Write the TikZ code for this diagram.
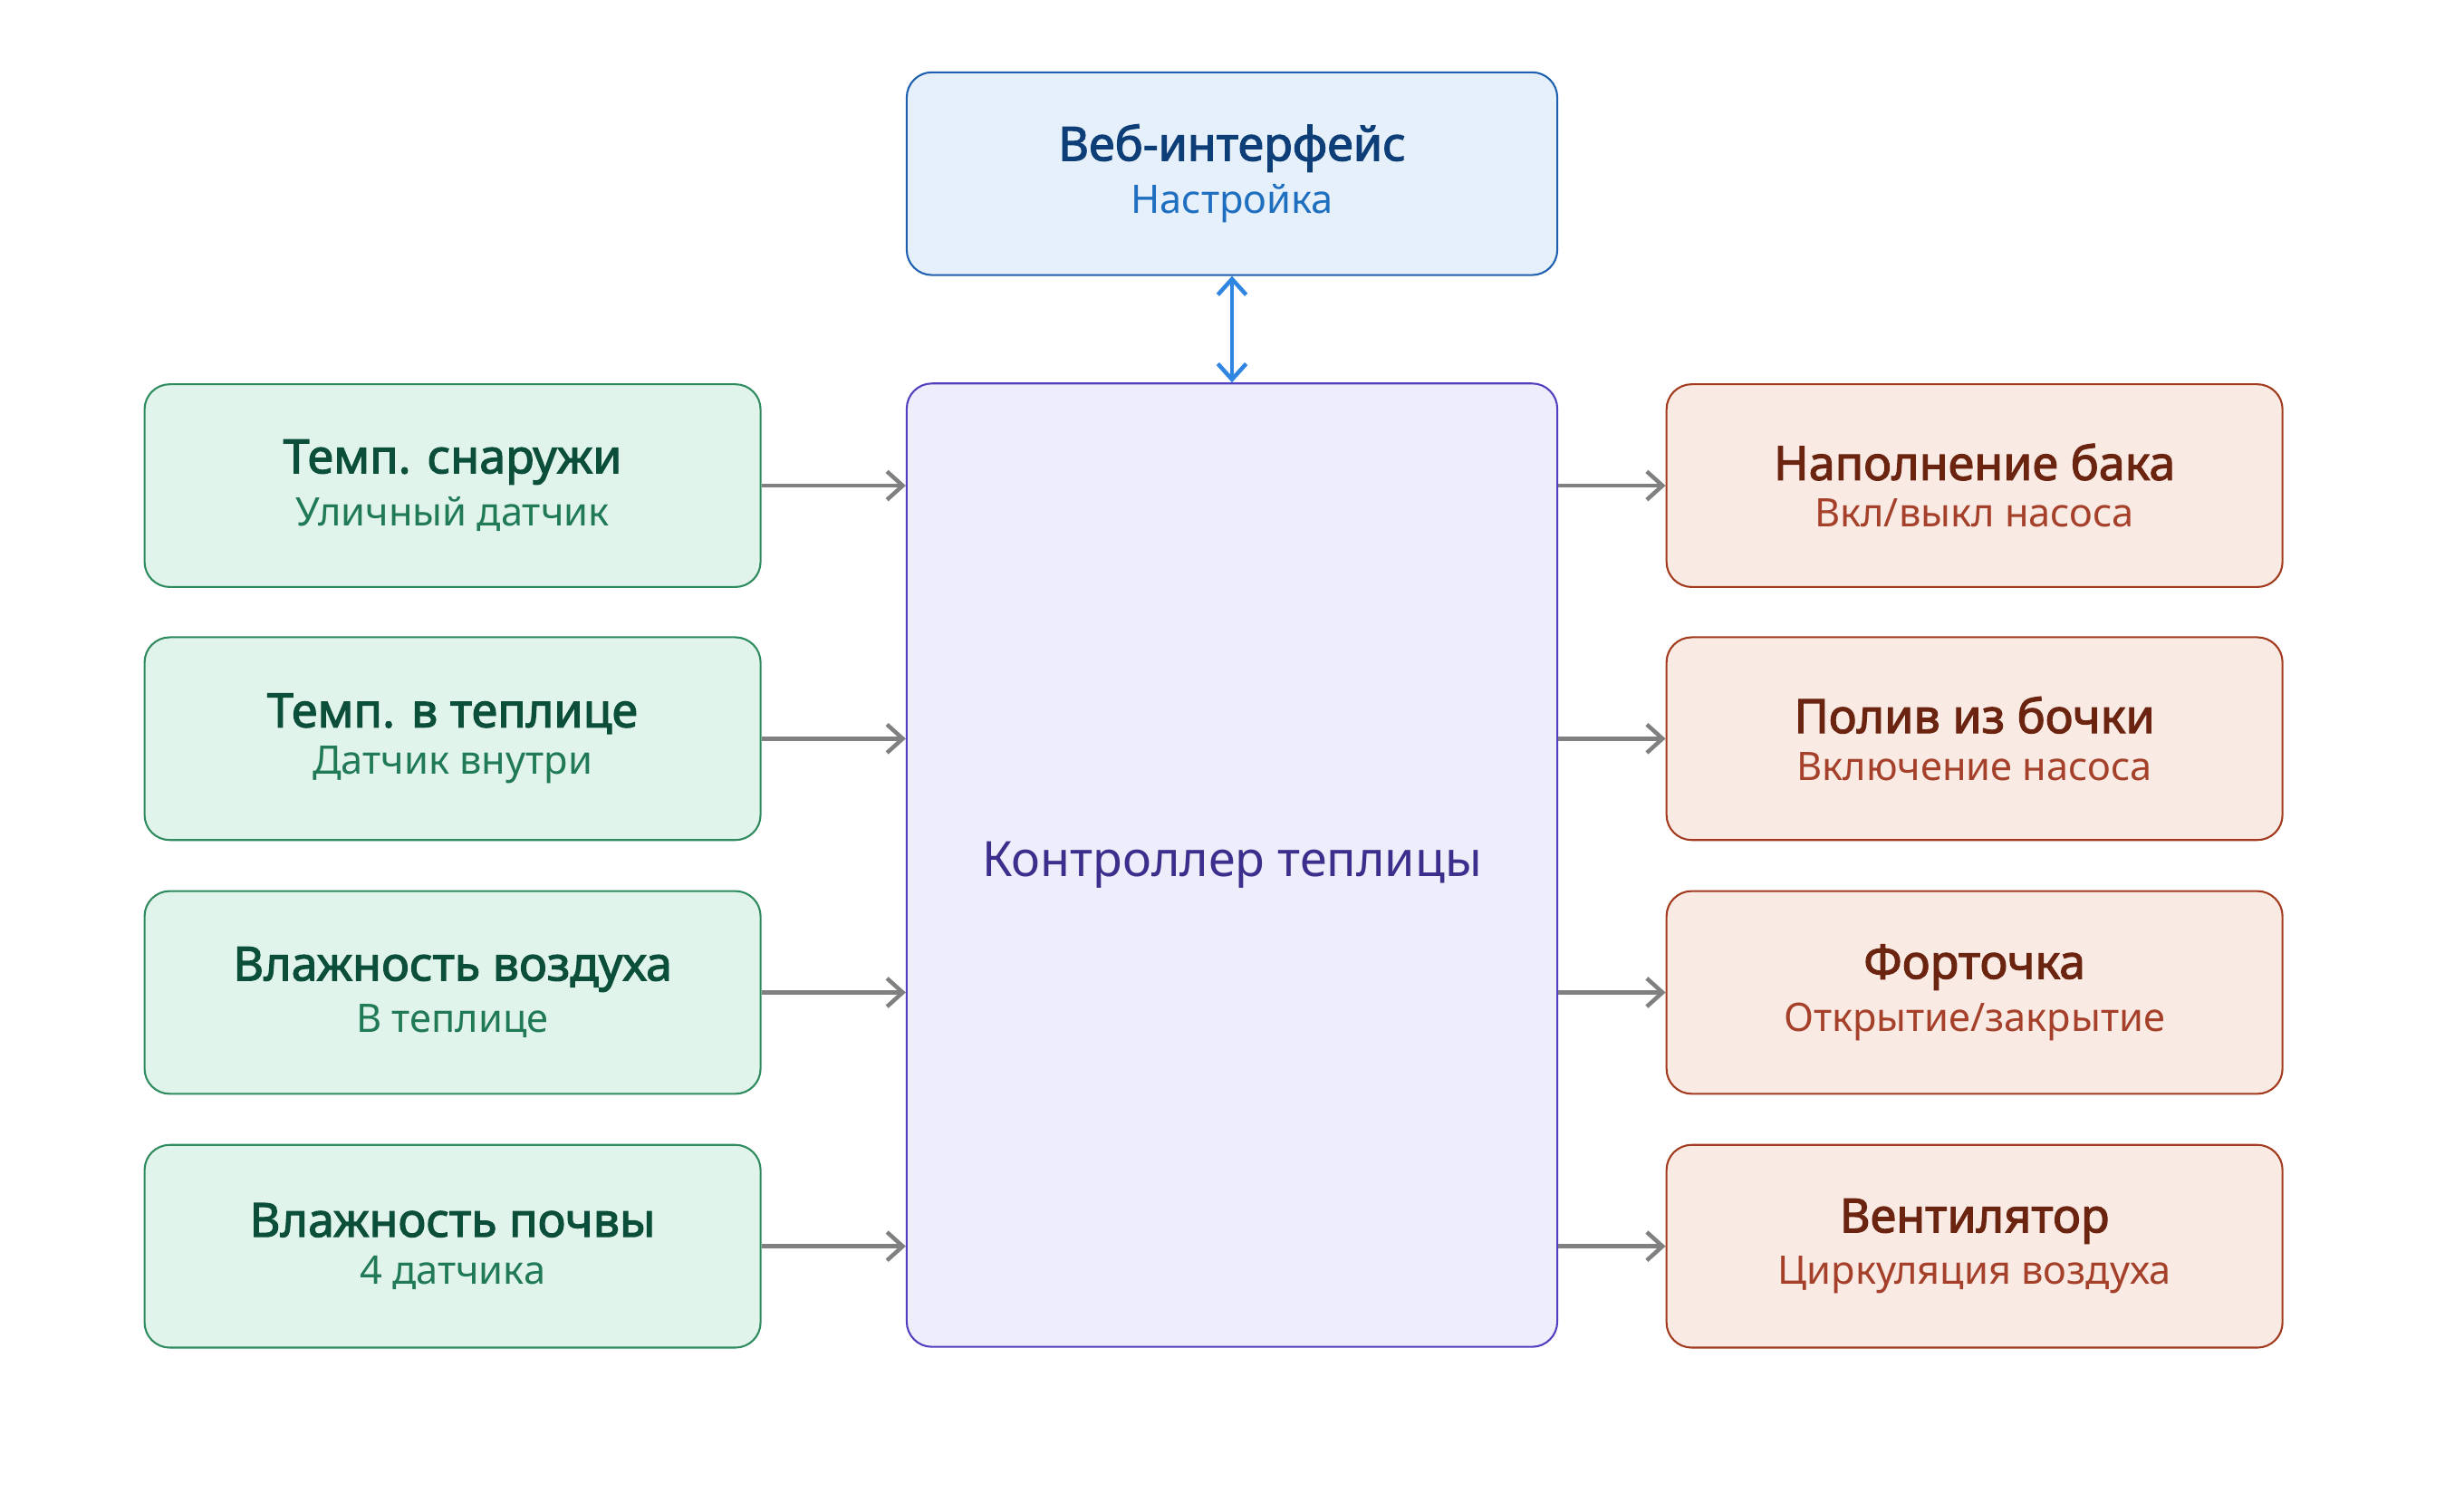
\documentclass[tikz,border=0pt]{standalone}
\usepackage{fontspec}
\setmainfont{Noto Sans}[AutoFakeBold=2.2]
\usetikzlibrary{arrows.meta}
\definecolor{inFill}{HTML}{E1F4EC}\definecolor{inLine}{HTML}{2E8B5E}
\definecolor{inHead}{HTML}{0B4F3A}\definecolor{inSub}{HTML}{1F7A55}
\definecolor{outFill}{HTML}{FAEAE4}\definecolor{outLine}{HTML}{A23B1E}
\definecolor{outHead}{HTML}{6B2410}\definecolor{outSub}{HTML}{A5402A}
\definecolor{webFill}{HTML}{E5F0FA}\definecolor{webLine}{HTML}{1F5FAF}
\definecolor{webHead}{HTML}{0D3E78}\definecolor{webSub}{HTML}{1F6FC0}
\definecolor{ctlFill}{HTML}{EEEDFB}\definecolor{ctlLine}{HTML}{5040C0}
\definecolor{ctlText}{HTML}{3B2E8C}
\definecolor{linkGray}{HTML}{808080}\definecolor{linkBlue}{HTML}{2F86E0}
\tikzset{
  box/.style={rectangle, rounded corners=8pt, line width=0.6pt, minimum width=196pt,
    minimum height=64.5pt, align=center, inner sep=0pt},
  inbox/.style={box, fill=inFill, draw=inLine},
  outbox/.style={box, fill=outFill, draw=outLine},
  link/.style={draw=linkGray, line width=1.3pt, -{Straight Barb[length=5pt,width=9pt]}},
}
\newcommand{\boxtext}[4]{{\fontsize{15}{22}\selectfont\bfseries\color{#1}#2}\\[3pt]{\fontsize{12.5}{16}\selectfont\color{#3}#4}}
\begin{document}
\begin{tikzpicture}[x=0.5pt,y=-0.5pt]
  \useasboundingbox (0,0) rectangle (1568,950);
  % upper block
  \node[box, fill=webFill, draw=webLine, minimum width=207pt] (web) at (784,110.5)
    {\boxtext{webHead}{Веб-интерфейс}{webSub}{Настройка}};
  \node[box, fill=ctlFill, draw=ctlLine, minimum width=207pt, minimum height=306.5pt] (ctl) at (784,550.5)
    {\fontsize{15.5}{20}\selectfont\color{ctlText}Контроллер теплицы};
  \draw[draw=linkBlue, line width=1.3pt, {Straight Barb[length=5pt,width=9pt]}-{Straight Barb[length=5pt,width=9pt]}] (web) -- (ctl);
  % sensors
  \node[inbox] (tout) at (288,309) {\boxtext{inHead}{Темп. снаружи}{inSub}{Уличный датчик}};
  \node[inbox] (tin) at (288,470) {\boxtext{inHead}{Темп. в теплице}{inSub}{Датчик внутри}};
  \node[inbox] (hair) at (288,631.5) {\boxtext{inHead}{Влажность воздуха}{inSub}{В теплице}};
  \node[inbox] (hsoil) at (288,793) {\boxtext{inHead}{Влажность почвы}{inSub}{4 датчика}};
  % actuators
  \node[outbox] (tank) at (1256.5,309) {\boxtext{outHead}{Наполнение бака}{outSub}{Вкл/выкл насоса}};
  \node[outbox] (water) at (1256.5,470) {\boxtext{outHead}{Полив из бочки}{outSub}{Включение насоса}};
  \node[outbox] (vent) at (1256.5,631.5) {\boxtext{outHead}{Форточка}{outSub}{Открытие/закрытие}};
  \node[outbox] (fan) at (1256.5,793) {\boxtext{outHead}{Вентилятор}{outSub}{Циркуляция воздуха}};
  \foreach \s in {tout,tin,hair,hsoil}
    \draw[link] (\s.east) -- (\s.east -| ctl.west);
  \foreach \a in {tank,water,vent,fan}
    \draw[link] (\a.west -| ctl.east) -- (\a.west);
\end{tikzpicture}
\end{document}
